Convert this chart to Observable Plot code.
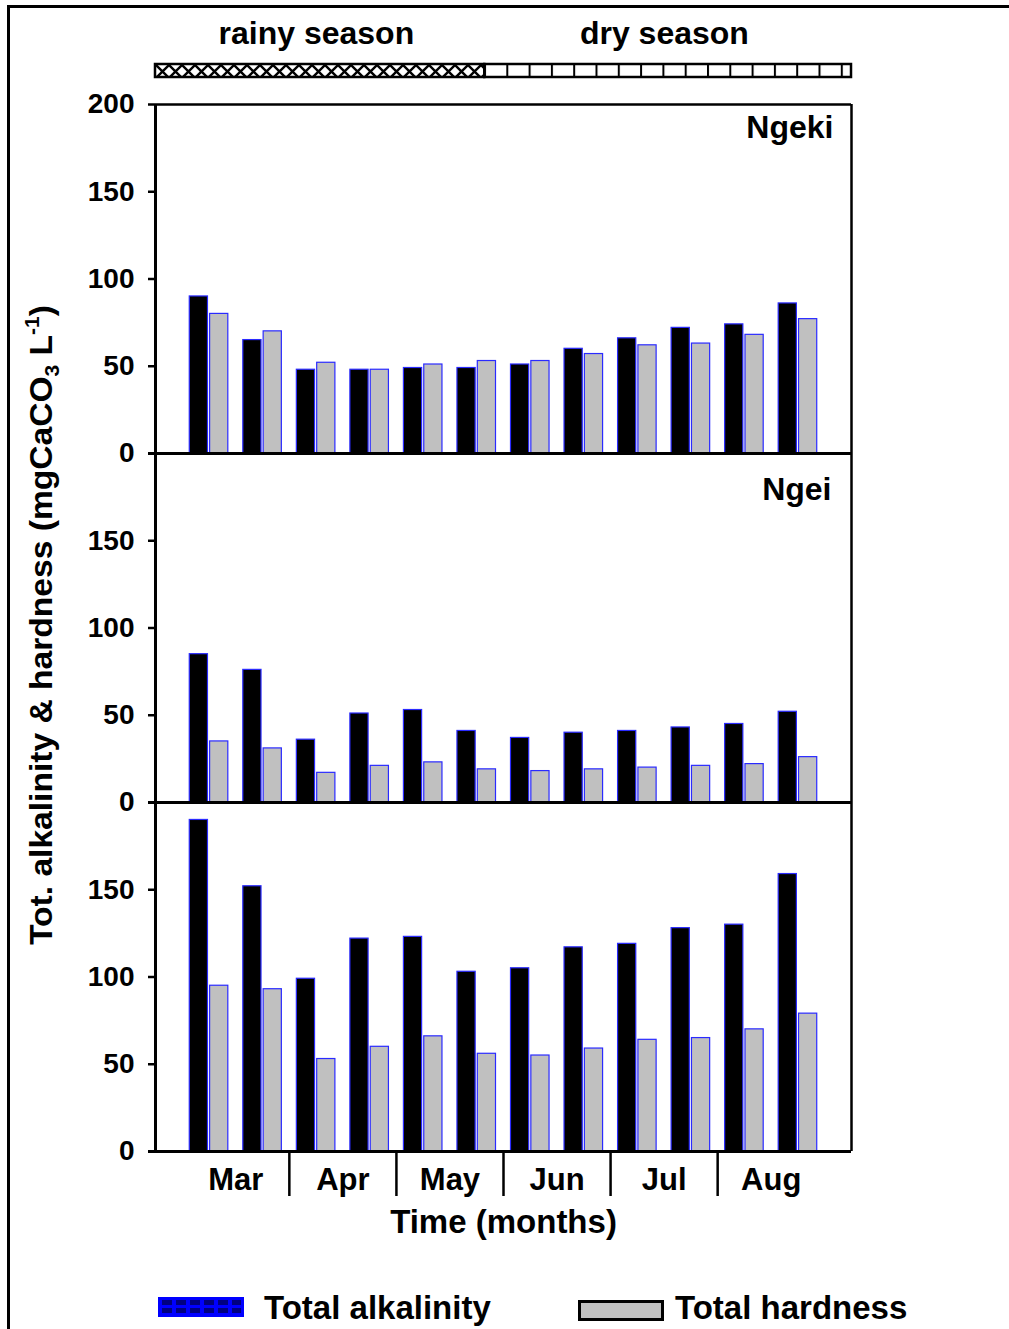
<!DOCTYPE html>
<html>
<head>
<meta charset="utf-8">
<script src="https://cdn.jsdelivr.net/npm/d3@7"></script>
<script src="https://cdn.jsdelivr.net/npm/@observablehq/plot@0.6"></script>
<style>
  html, body { margin: 0; padding: 0; background: #fff; }
  #wrap { position: relative; width: 1009px; height: 1329px; overflow: hidden; font-family: "Liberation Sans", Arial, sans-serif; font-weight: bold; }
  #outer { position: absolute; left: 7px; top: 5px; width: 1010px; height: 1330px; border-top: 3px solid #000; border-left: 3px solid #000; pointer-events: none; }
  .leg { position: absolute; font-size: 33px; line-height: 1; color: #000; white-space: nowrap; }
</style>
</head>
<body>
<div id="wrap">
  <svg width="0" height="0" style="position:absolute">
    <defs>
      <pattern id="hatch" width="13" height="13" patternUnits="userSpaceOnUse">
        <rect width="13" height="13" fill="#fff"/>
        <path d="M0,0 L13,13 M0,13 L13,0" stroke="#000" stroke-width="2.4"/>
      </pattern>
      <pattern id="dry" width="22.3" height="14" patternUnits="userSpaceOnUse" x="484">
        <rect width="22.3" height="14" fill="#fff"/>
        <line x1="1" y1="0" x2="1" y2="14" stroke="#000" stroke-width="2"/>
      </pattern>
    </defs>
  </svg>
  <div id="chart"></div>
  <div class="leg" style="left:158px; top:1297px;">
    <svg width="86" height="20" style="display:block"><rect x="0.5" y="0.5" width="85" height="19" fill="#0000ff" stroke="#0000ff"/>
      <g fill="#000080"><rect x="4" y="3" width="10" height="5"/><rect x="18" y="3" width="10" height="5"/><rect x="32" y="3" width="10" height="5"/><rect x="46" y="3" width="10" height="5"/><rect x="60" y="3" width="10" height="5"/><rect x="74" y="3" width="9" height="5"/>
      <rect x="4" y="11" width="10" height="5"/><rect x="18" y="11" width="10" height="5"/><rect x="32" y="11" width="10" height="5"/><rect x="46" y="11" width="10" height="5"/><rect x="60" y="11" width="10" height="5"/><rect x="74" y="11" width="9" height="5"/></g>
    </svg>
  </div>
  <div class="leg" style="left:264px; top:1291px;">Total alkalinity</div>
  <div class="leg" style="left:578px; top:1300px;">
    <svg width="86" height="21" style="display:block"><rect x="1.5" y="1.5" width="83" height="18" fill="#c0c0c0" stroke="#000" stroke-width="3"/></svg>
  </div>
  <div class="leg" style="left:675px; top:1291px;">Total hardness</div>
  <div id="outer"></div>
</div>
<script>
// ---- data ----
const panelKeys = ["Ngeki", "Ngei", "Site 3"];
const panelLabels = ["Ngeki", "Ngei", ""];
const months = ["Mar", "Apr", "May", "Jun", "Jul", "Aug"];
const seriesNames = ["Total alkalinity", "Total hardness"];
const yTicks = [0, 50, 100, 150, 200];
const seasons = ["rainy season", "dry season"];
const seasonBreaks = [0, 6.15, 13];
const monthBreaks = [2.5, 4.5, 6.5, 8.5, 10.5];

const alkNgeki = [90, 65, 48, 48, 49, 49, 51, 60, 66, 72, 74, 86];
const hardNgeki = [80, 70, 52, 48, 51, 53, 53, 57, 62, 63, 68, 77];
const alkNgei = [85, 76, 36, 51, 53, 41, 37, 40, 41, 43, 45, 52];
const hardNgei = [35, 31, 17, 21, 23, 19, 18, 19, 20, 21, 22, 26];
const alkSite3 = [190, 152, 99, 122, 123, 103, 105, 117, 119, 128, 130, 159];
const hardSite3 = [95, 93, 53, 60, 66, 56, 55, 59, 64, 65, 70, 79];

// ---- build table ----
const seriesByPanel = [[alkNgeki, hardNgeki], [alkNgei, hardNgei], [alkSite3, hardSite3]];
const rows = [];
panelKeys.forEach((p, k) => {
  seriesByPanel[k].forEach((vals, s) => {
    vals.forEach((v, i) => rows.push({panel: p, idx: i + 1, series: seriesNames[s], value: v}));
  });
});
const tickRows = panelKeys.flatMap((p, k) => yTicks.filter(v => v < 200 || k === 0).map(v => ({panel: p, v})));
const seasonRows = seasons.map((name, i) => ({panel: panelKeys[0], name, start: seasonBreaks[i], end: seasonBreaks[i + 1], fill: i === 0 ? "url(#hatch)" : "url(#dry)"}));
const monthRows = months.map((m, i) => ({panel: panelKeys[2], m, pos: 2 * i + 1.5}));
const breakRows = monthBreaks.map(b => ({panel: panelKeys[2], b}));
const lastPanel = [{panel: panelKeys[2]}];
const firstPanel = [{panel: panelKeys[0], v: 200}];

const W = 0.34, G = 0.02;
const font = "'Liberation Sans', Arial, sans-serif";

const chart = Plot.plot({
  width: 1009,
  height: 1262,
  marginLeft: 155,
  marginRight: 158,
  marginTop: 104,
  marginBottom: 111,
  style: {fontFamily: font, fontWeight: "bold", fontSize: "26px", color: "#000", background: "transparent", overflow: "visible"},
  x: {domain: [0, 13], axis: null},
  y: {domain: [0, 200], axis: null},
  fy: {domain: panelKeys, padding: 0, axis: null},
  marks: [
    // bars
    Plot.rectY(rows, {
      fy: "panel",
      x1: d => d.series === seriesNames[0] ? d.idx - W - G : d.idx + G,
      x2: d => d.series === seriesNames[0] ? d.idx - G : d.idx + W + G,
      y1: 0,
      y2: "value",
      fill: d => d.series === seriesNames[0] ? "#000" : "#c0c0c0",
      stroke: "#2a2aff",
      strokeWidth: 1.2
    }),
    // frame
    Plot.ruleX([0], {strokeWidth: 3}),
    Plot.ruleX([13], {strokeWidth: 2.5}),
    Plot.ruleY([0], {strokeWidth: 3, insetLeft: -7}),
    Plot.ruleY(firstPanel, {y: "v", fy: "panel", strokeWidth: 2.5}),
    // y ticks
    Plot.ruleY(tickRows, {y: "v", fy: "panel", x1: 0, x2: 0, insetLeft: -7, strokeWidth: 2.5}),
    Plot.text(tickRows, {y: "v", fy: "panel", frameAnchor: "left", dx: -21, textAnchor: "end", text: d => String(d.v), fontSize: 28, fontWeight: "bold"}),
    // panel labels
    Plot.text([{panel: panelKeys[0], t: panelLabels[0]}], {fy: "panel", text: "t", frameAnchor: "top-right", lineAnchor: "middle", dx: -18, dy: 23, fontSize: 32, fontWeight: "bold"}),
    Plot.text([{panel: panelKeys[1], t: panelLabels[1]}], {fy: "panel", text: "t", frameAnchor: "top-right", lineAnchor: "middle", dx: -20, dy: 36, fontSize: 32, fontWeight: "bold"}),
    // season bar
    Plot.rect(seasonRows, {fy: "panel", x1: "start", x2: "end", y1: 200, y2: 200, insetTop: -40, insetBottom: 27, fill: d => d.fill, stroke: "#000", strokeWidth: 2.5}),
    Plot.text(seasonRows, {fy: "panel", x: d => (d.start + d.end) / 2 - 0.07, y: 200, dy: -71, text: "name", fontSize: 32, fontWeight: "bold"}),
    // month labels + separators
    Plot.ruleX(breakRows, {fy: "panel", x: "b", y1: 0, y2: 0, insetBottom: -45, strokeWidth: 2.5}),
    Plot.text(monthRows, {fy: "panel", x: "pos", y: 0, dy: 29, text: "m", fontSize: 31, fontWeight: "bold"}),
    Plot.text(lastPanel, {fy: "panel", frameAnchor: "bottom", lineAnchor: "middle", dy: 71, text: () => "Time (months)", fontSize: 33, fontWeight: "bold"})
  ]
});
document.getElementById("chart").appendChild(chart);

// y-axis title with subscript / superscript
const svg = d3.select(chart);
const t = svg.append("text")
  .attr("transform", "translate(52,625) rotate(-90)")
  .attr("text-anchor", "middle")
  .attr("font-family", font)
  .attr("font-weight", "bold")
  .attr("font-size", 32)
  .attr("textLength", 640)
  .attr("lengthAdjust", "spacingAndGlyphs")
  .attr("fill", "#000");
t.append("tspan").text("Tot. alkalinity & hardness (mgCaCO");
t.append("tspan").attr("font-size", 20).attr("dy", 7).text("3");
t.append("tspan").attr("dy", -7).text(" L");
t.append("tspan").attr("font-size", 20).attr("dy", -13).text("-1");
t.append("tspan").attr("dy", 13).text(")");
</script>
</body>
</html>
